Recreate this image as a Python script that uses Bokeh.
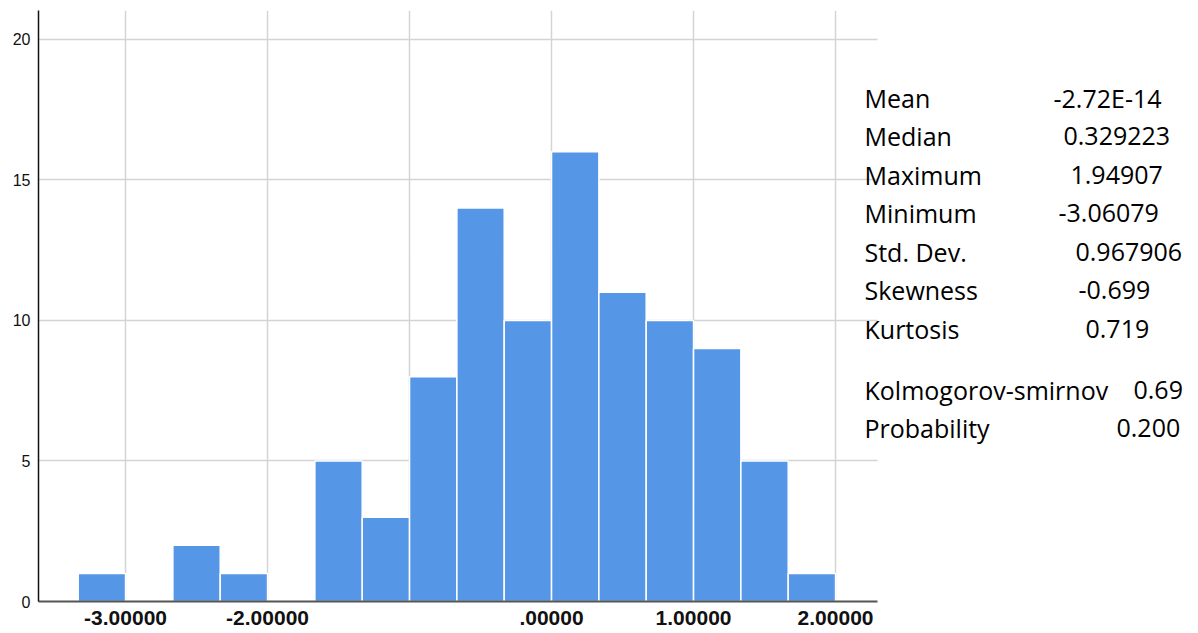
from bokeh.plotting import figure
from bokeh.models import Range1d, FixedTicker, Label
from bokeh.embed import file_html
from bokeh.resources import INLINE

# ---- data ----
bin_edges = [-10/3, -3.0, -8/3, -7/3, -2.0, -5/3, -4/3, -1.0, -2/3, -1/3,
             0.0, 1/3, 2/3, 1.0, 4/3, 5/3, 2.0]
counts = [1, 0, 2, 1, 0, 5, 3, 8, 14, 10, 16, 11, 10, 9, 5, 1]
x_ticks = [-3, -2, -1, 0, 1, 2]
x_tick_labels = ["-3.00000", "-2.00000", "", ".00000", "1.00000", "2.00000"]
y_ticks = [0, 5, 10, 15, 20]
stat_names = ["Mean", "Median", "Maximum", "Minimum", "Std. Dev.",
              "Skewness", "Kurtosis", "Kolmogorov-smirnov", "Probability"]
stat_values = ["-2.72E-14", "0.329223", "1.94907", "-3.06079", "0.967906",
               "-0.699", "0.719", "0.69", "0.200"]

# ---- layout ----
W, H = 1198, 633
FL, FT, FB = 38, 10, 601          # frame edges in canvas px
PXU = 142.0                       # px per x unit
X0 = -3.613
XR = 2.296                        # right limit of the histogram panel
X1 = X0 + (W - FL) / PXU          # frame extended to hold the stats text
Y0, Y1 = 0, 21.03

p = figure(width=W, height=H, output_backend="svg", toolbar_location=None,
           x_range=Range1d(X0, X1), y_range=Range1d(Y0, Y1),
           min_border_left=FL, min_border_top=FT,
           min_border_right=0, min_border_bottom=H - FB)
p.outline_line_color = None
p.background_fill_color = "white"

p.quad(left=bin_edges[:-1], right=bin_edges[1:], top=counts, bottom=0,
       fill_color="#5596e6", line_color="white", line_width=1.5)

p.xaxis.ticker = FixedTicker(ticks=x_ticks)
p.xaxis.major_label_overrides = {t: l for t, l in zip(x_ticks, x_tick_labels)}
p.xaxis.bounds = (X0, XR)
p.yaxis.ticker = FixedTicker(ticks=y_ticks)

for ax in (p.xaxis, p.yaxis):
    ax.major_tick_line_color = None
    ax.minor_tick_line_color = None
    ax.major_tick_out = 0
    ax.major_tick_in = 0
    ax.minor_tick_out = 0
    ax.minor_tick_in = 0
    ax.major_label_text_font = "Liberation Sans"
    ax.major_label_text_color = "#111111"
p.xaxis.axis_line_color = "#555555"
p.xaxis.axis_line_width = 2
p.yaxis.axis_line_color = "#111111"
p.yaxis.axis_line_width = 1.5
p.xaxis.major_label_text_font_size = "21px"
p.xaxis.major_label_text_font_style = "bold"
p.xaxis.major_label_standoff = 9
p.yaxis.major_label_text_font_size = "16px"
p.yaxis.major_label_standoff = 8

p.xgrid.grid_line_color = "#d4d4d4"
p.xgrid.grid_line_width = 1.5
ygrid = p.ygrid[0]
if "cross_bounds" in ygrid.properties():
    ygrid.cross_bounds = (X0, XR)
    ygrid.grid_line_color = "#d4d4d4"
    ygrid.grid_line_width = 1.5
else:
    ygrid.grid_line_color = None
    gy = y_ticks[1:]
    p.segment(x0=[X0] * len(gy), x1=[XR] * len(gy), y0=gy, y1=gy,
              line_color="#d4d4d4", line_width=1.5, level="underlay")

# pixel -> data helpers
def px_x(px):
    return X0 + (px - FL) / PXU

def px_y(py):
    return Y1 - (py - FT) * (Y1 - Y0) / (FB - FT)

baselines = [97, 135.5, 174, 212.5, 251, 289.5, 328, 389, 427.5]
value_left = [1053, 1063, 1070, 1058, 1075, 1078, 1085, 1133, 1116]

for name, val, by, vx in zip(stat_names, stat_values, baselines, value_left):
    p.add_layout(Label(x=px_x(864), y=px_y(by), text=name,
                       text_font="Open Sans", text_font_size="25px",
                       text_color="black", text_baseline="alphabetic",
                       text_align="left"))
    p.add_layout(Label(x=px_x(vx), y=px_y(by), text=val,
                       text_font="Open Sans", text_font_size="25px",
                       text_color="black", text_baseline="alphabetic",
                       text_align="left"))

open("out.html", "w").write(file_html(p, INLINE))
